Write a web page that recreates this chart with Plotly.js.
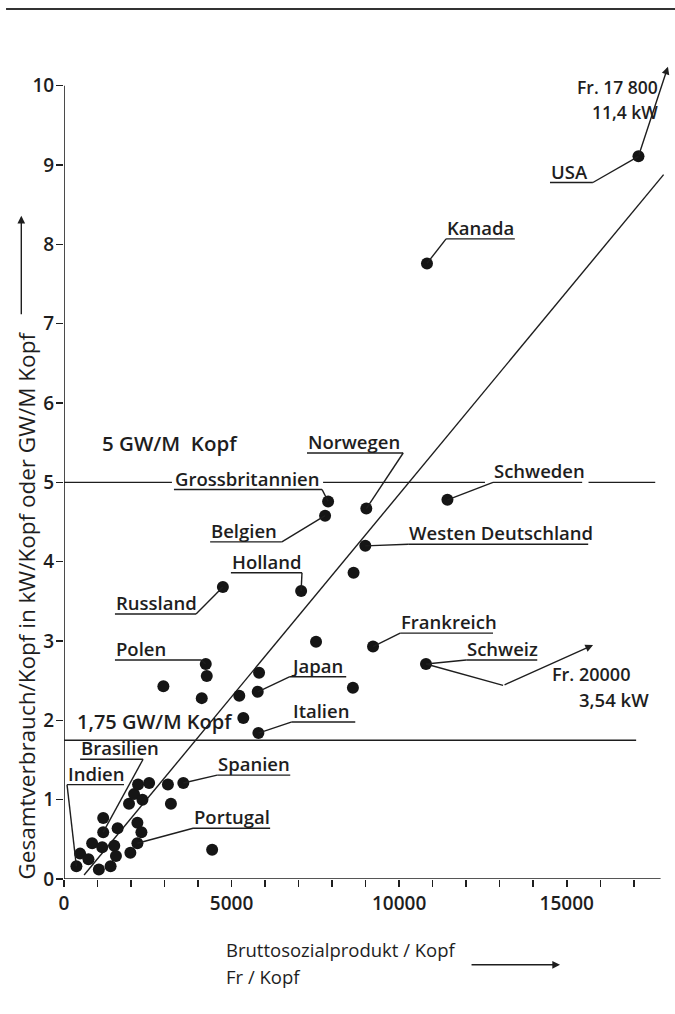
<!DOCTYPE html>
<html><head><meta charset="utf-8">
<script src="https://cdn.plot.ly/plotly-3.0.1.min.js"></script>
<style>html,body{margin:0;padding:0;background:#fff}</style>
</head><body><div id="chart" style="width:675px;height:1014px"></div>
<script>
// ---- data ----
const bspX = [370, 480, 730, 840, 1040, 1140, 1170, 1170, 1390, 1500, 1550, 1600, 1940, 1980, 2090, 2210, 2190, 2190, 2310, 2340, 2540, 3100, 3190, 3560, 4420, 5800, 5350, 5230, 5780, 5820, 4110, 2965, 4260, 4230, 4740, 7075, 7520, 8620, 9220, 10800, 8640, 8990, 7790, 7880, 9020, 11440, 10830, 17140];
const verbrauchY = [0.16, 0.32, 0.25, 0.45, 0.12, 0.40, 0.59, 0.77, 0.16, 0.42, 0.29, 0.64, 0.95, 0.33, 1.07, 1.19, 0.71, 0.45, 0.59, 1.00, 1.21, 1.19, 0.95, 1.21, 0.37, 1.84, 2.03, 2.31, 2.36, 2.60, 2.28, 2.43, 2.56, 2.71, 3.68, 3.63, 2.99, 2.41, 2.93, 2.71, 3.86, 4.20, 4.58, 4.76, 4.67, 4.78, 7.76, 9.11];
const countryNames = ['Indien','','','','','','Brasilien','','','','','','','','','','','Portugal','','','','','','Spanien','','Italien','','','Japan','','','','','Polen','Russland','Holland','','','Frankreich','Schweiz','','Westen Deutschland','Belgien','Grossbritannien','Norwegen','Schweden','Kanada','USA'];
const trendX = [600, 17890];
const trendY = [0.05, 8.88];
const refLevels = [5, 1.75];
const refLabels = ['5 GW/M  Kopf', '1,75 GW/M Kopf'];
const xTickVals = [0, 5000, 10000, 15000];
const xTickText = ['0', '5000', '10000', '15000'];
const yTickVals = [0,1,2,3,4,5,6,7,8,9,10];
const yTickText = ['0','1','2','3','4','5','6','7','8','9','10'];
const usaNote = ['Fr. 17 800', '11,4 kW'];
const schweizNote = ['Fr. 20000', '3,54 kW'];
const xTitle = ['Bruttosozialprodukt / Kopf', 'Fr / Kopf'];
const yTitle = 'Gesamtverbrauch/Kopf in kW/Kopf oder GW/M Kopf';

// ---- layout of labels (positions only) ----
const labelLayout = [
  {name:'USA', ul:8.78, x0:14500, x1:15780, from:'x1'},
  {name:'Kanada', ul:8.07, x0:11400, x1:13450, from:'x0'},
  {name:'Norwegen', ul:5.37, x0:7250, x1:10120, from:'x1'},
  {name:'Grossbritannien', ul:4.91, x0:3280, x1:7700, from:'x1'},
  {name:'Belgien', ul:4.25, x0:4360, x1:6500, from:'x1'},
  {name:'Schweden', ul:5.0, x0:12800, x1:15460, from:'x0'},
  {name:'Westen Deutschland', ul:4.22, x0:10270, x1:15640, from:'x0'},
  {name:'Holland', ul:3.86, x0:4980, x1:7100, from:'x1'},
  {name:'Russland', ul:3.34, x0:1520, x1:3940, from:'x1'},
  {name:'Polen', ul:2.76, x0:1520, x1:4100, from:'x1'},
  {name:'Japan', ul:2.55, x0:6740, x1:8420, from:'x0'},
  {name:'Italien', ul:1.98, x0:6800, x1:8690, from:'x0'},
  {name:'Frankreich', ul:3.10, x0:10030, x1:12800, from:'x0'},
  {name:'Schweiz', ul:2.76, x0:12000, x1:14120, from:'x0'},
  {name:'Spanien', ul:1.31, x0:4570, x1:6750, from:'x0'},
  {name:'Portugal', ul:0.64, x0:3850, x1:6150, from:'x0'},
  {name:'Brasilien', ul:1.51, x0:480, x1:2360, from:'x1'},
  {name:'Indien', ul:1.19, x0:90, x1:1790, from:'x0'}
];

const INK = '#1e1e1e';
const FONT = '"Open Sans", "DejaVu Sans", sans-serif';
const W = 600;
const LW = 1.4;

const shapes = [];
const annotations = [];
function line(x0,y0,x1,y1,w){ shapes.push({type:'line',xref:'x',yref:'y',x0:x0,y0:y0,x1:x1,y1:y1,line:{color:INK,width:w||LW}}); }
function f(size, wt){ return {family:FONT, size:size, color:INK, weight:wt || W}; }

labelLayout.forEach(l => {
  const i = countryNames.indexOf(l.name);
  const px = bspX[i], py = verbrauchY[i];
  line(l.x0, l.ul, l.x1, l.ul);
  const sx = l.from === 'x0' ? l.x0 : l.x1;
  line(sx, l.ul, px, py);
  annotations.push({x:l.x0, y:l.ul, xref:'x', yref:'y', xanchor:'left', yanchor:'bottom', yshift:-2, borderpad:0,
    text:l.name, showarrow:false, font:f(18.5)});
});

// reference lines
line(0, refLevels[0], 3220, refLevels[0]);
line(7730, refLevels[0], 12560, refLevels[0]);
line(15650, refLevels[0], 17640, refLevels[0]);
line(0, refLevels[1], 17070, refLevels[1]);
annotations.push({x:1075, y:5.5, xref:'x', yref:'y', xanchor:'left', yanchor:'middle', text:refLabels[0], showarrow:false, font:f(20.5)});
annotations.push({x:330, y:1.98, xref:'x', yref:'y', xanchor:'left', yanchor:'middle', text:refLabels[1], showarrow:false, font:f(20)});

// USA note & arrow
const iUSA = countryNames.indexOf('USA');
annotations.push({x:18020, y:10.24, xref:'x', yref:'y', ax:bspX[iUSA], ay:verbrauchY[iUSA], axref:'x', ayref:'y', text:'', showarrow:true, arrowhead:2, arrowsize:1.1, arrowwidth:1.4, arrowcolor:INK, standoff:0, startstandoff:0});
annotations.push({x:17783, y:9.98, xref:'x', yref:'y', xanchor:'right', yanchor:'middle', text:usaNote[0], showarrow:false, font:f(17.5)});
annotations.push({x:17783, y:9.67, xref:'x', yref:'y', xanchor:'right', yanchor:'middle', text:usaNote[1], showarrow:false, font:f(17.5)});

// Schweiz note & arrow
const iCH = countryNames.indexOf('Schweiz');
line(bspX[iCH], verbrauchY[iCH], 13100, 2.44);
annotations.push({x:15785, y:2.95, xref:'x', yref:'y', ax:13100, ay:2.44, axref:'x', ayref:'y', text:'', showarrow:true, arrowhead:2, arrowsize:1.1, arrowwidth:1.4, arrowcolor:INK, standoff:0});
annotations.push({x:14500, y:2.58, xref:'x', yref:'y', xanchor:'left', yanchor:'middle', text:schweizNote[0], showarrow:false, font:f(18)});
annotations.push({x:15300, y:2.26, xref:'x', yref:'y', xanchor:'left', yanchor:'middle', text:schweizNote[1], showarrow:false, font:f(18.5)});

// axes lines
line(0, 0, 0, 10, 1.6);
line(0, 0, 17800, 0, 1.6);

// axis titles
annotations.push({x:4760, y:-0.086, xref:'x', yref:'paper', xanchor:'left', yanchor:'middle', align:'left',
  text:xTitle[0], showarrow:false, font:f(18.5, 400)});
annotations.push({x:4760, y:-0.118, xref:'x', yref:'paper', xanchor:'left', yanchor:'middle', align:'left',
  text:xTitle[1], showarrow:false, font:f(18.5, 400)});
annotations.push({x:14800, y:-0.104, xref:'x', yref:'paper', ax:-90, ay:0, text:'', showarrow:true, arrowhead:2, arrowsize:1.1, arrowwidth:1.4, arrowcolor:INK, standoff:0});
annotations.push({x:-0.062, y:3.45, xref:'paper', yref:'y', textangle:-90, xanchor:'center', yanchor:'middle',
  text:yTitle, showarrow:false, font:f(22.5, 400)});
annotations.push({x:-0.070, y:8.36, xref:'paper', yref:'y', ax:0, ay:100, text:'', showarrow:true, arrowhead:2, arrowsize:1.1, arrowwidth:1.4, arrowcolor:INK, standoff:0});

// top rule
shapes.push({type:'line', xref:'paper', yref:'paper', x0:-0.095, x1:1.002, y0:1.0545, y1:1.0545, line:{color:'#333', width:2}});

const traces = [
  {x:trendX, y:trendY, mode:'lines', line:{color:INK, width:1.4}, hoverinfo:'skip'},
  {x:bspX, y:verbrauchY, mode:'markers', marker:{size:12, color:'#151515'}, text:countryNames, hoverinfo:'x+y+text'}
];

const minorVals = [];
for (let v = 1000; v <= 17000; v += 1000) if (v % 5000 !== 0) minorVals.push(v);

const layout = {
  width:675, height:1014,
  margin:{l:64, r:1, t:54, b:135},
  paper_bgcolor:'#ffffff', plot_bgcolor:'#ffffff',
  showlegend:false,
  font:{family:FONT, color:INK},
  xaxis:{range:[0,18200], showgrid:false, zeroline:false, showline:false,
    tickmode:'array', tickvals:xTickVals, ticktext:xTickText, ticks:'outside', ticklen:7, tickwidth:1.5, tickcolor:INK,
    tickfont:f(19),
    minor:{tickmode:'array', tickvals:minorVals, ticks:'outside', ticklen:7, tickwidth:1.5, tickcolor:INK, showgrid:false}},
  yaxis:{range:[0,10.4], showgrid:false, zeroline:false, showline:false,
    tickmode:'array', tickvals:yTickVals, ticktext:yTickText, ticks:'outside', ticklen:7, tickwidth:1.5, tickcolor:INK,
    ticklabelstandoff:-2, tickfont:f(19)},
  shapes:shapes, annotations:annotations
};

Plotly.newPlot('chart', traces, layout, {displayModeBar:false, staticPlot:true});
</script></body></html>
